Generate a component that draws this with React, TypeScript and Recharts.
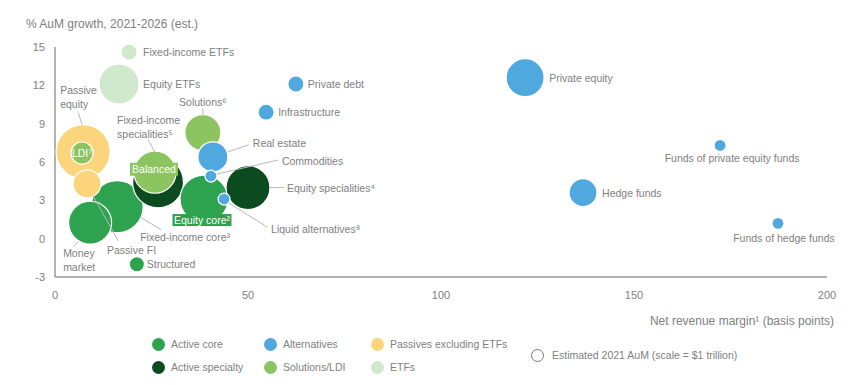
import React from 'react';
import { ScatterChart, Scatter, XAxis, YAxis, ZAxis } from 'recharts';

// draw order matters: later points sit on top of earlier ones
const NAMES = [
  'Passive equity', 'LDI⁷', 'Fixed-income ETFs', 'Equity ETFs', 'Fixed-income core³', 'Money market',
  'Passive FI', 'Fixed-income specialities⁵', 'Balanced', 'Equity core²', 'Equity specialities⁴',
  'Solutions⁶', 'Real estate', 'Commodities', 'Liquid alternatives⁸', 'Structured', 'Infrastructure',
  'Private debt', 'Private equity', 'Hedge funds', 'Funds of private equity funds', 'Funds of hedge funds',
];
const GROUP = [
  'Passives excluding ETFs', 'Solutions/LDI', 'ETFs', 'ETFs', 'Active core', 'Active core',
  'Passives excluding ETFs', 'Active specialty', 'Solutions/LDI', 'Active core', 'Active specialty',
  'Solutions/LDI', 'Alternatives', 'Alternatives', 'Alternatives', 'Active core', 'Alternatives',
  'Alternatives', 'Alternatives', 'Alternatives', 'Alternatives', 'Alternatives',
];
// net revenue margin, basis points
const NET_MARGIN = [7.3, 7.0, 19.2, 16.6, 16.1, 9.1, 8.3, 26.7, 25.9, 38.6, 50.0, 38.3, 40.9, 40.4, 43.8, 21.2, 54.7, 62.4, 121.8, 136.8, 172.3, 187.3];
// % AuM growth 2021-2026
const GROWTH = [6.8, 6.7, 14.6, 12.1, 2.5, 1.25, 4.3, 4.4, 5.2, 3.1, 4.0, 8.3, 6.4, 4.9, 3.1, -2.0, 9.9, 12.1, 12.6, 3.6, 7.3, 1.2];
// estimated 2021 AuM, $ trillion
const AUM = [20.3, 3.4, 1.8, 11.1, 18.8, 12.8, 5.4, 18, 12.3, 16, 13.4, 9, 6.25, 1, 1, 1.6, 1.8, 1.8, 10, 5.4, 1, 1];

const X_TICKS = [0, 50, 100, 150, 200];
const Y_TICKS = [-3, 0, 3, 6, 9, 12, 15];

const LEGEND_ROWS = [
  ['Active core', 'Alternatives', 'Passives excluding ETFs'],
  ['Active specialty', 'Solutions/LDI', 'ETFs'],
];

const COLORS: Record<string, string> = {
  'Active core': '#2ea34f',
  'Active specialty': '#0c4a20',
  'Alternatives': '#4fa9df',
  'Passives excluding ETFs': '#fcd47c',
  'Solutions/LDI': '#8cc460',
  'ETFs': '#d0e8cc',
};

const FONT = '"Liberation Sans", Arial, sans-serif';
const TEXT = '#808080';

type LabelSpec = {
  dx: number;
  dy: number;
  anchor?: 'start' | 'middle' | 'end';
  split?: boolean;
  leader?: [number, number, number, number];
  box?: { w: number; h: number; fill: string };
  color?: string;
};

const LABELS: Record<string, LabelSpec> = {
  'Fixed-income ETFs': { dx: 14, dy: 0 },
  'Equity ETFs': { dx: 24, dy: 0 },
  'Passive equity': { dx: -23, dy: -62, split: true, leader: [-5, -39, -1, -27] },
  'LDI⁷': { dx: 0, dy: 0, anchor: 'middle', color: '#fff' },
  'Passive FI': { dx: 20, dy: 66, leader: [6, 12, 31, 57] },
  'Money market': { dx: -27, dy: 30, split: true, leader: [-12, 19, -16, 24] },
  'Fixed-income core³': { dx: 23, dy: 30, leader: [24, 11, 44, 23] },
  'Fixed-income specialities⁵': { dx: -41, dy: -62, split: true, leader: [-10, -43, -3, -30] },
  'Balanced': { dx: -1, dy: -3, anchor: 'middle', box: { w: 48, h: 13, fill: COLORS['Solutions/LDI'] }, color: '#fff' },
  'Solutions⁶': { dx: 0, dy: -31, anchor: 'middle', leader: [0, -24, 0, -18] },
  'Real estate': { dx: 40, dy: -14, leader: [15, -5, 36, -12] },
  'Commodities': { dx: 71, dy: -15, leader: [6, -2, 67, -16] },
  'Equity specialities⁴': { dx: 39, dy: 0, leader: [22, 0, 36, 0] },
  'Liquid alternatives⁸': { dx: 47, dy: 30, leader: [5, 4, 43, 28] },
  'Equity core²': { dx: -2, dy: 21, anchor: 'middle', box: { w: 59, h: 12, fill: COLORS['Active core'] }, color: '#fff' },
  'Structured': { dx: 10, dy: 0 },
  'Private debt': { dx: 12, dy: 0 },
  'Infrastructure': { dx: 12, dy: 0 },
  'Private equity': { dx: 24, dy: 0 },
  'Funds of private equity funds': { dx: 12, dy: 13, anchor: 'middle' },
  'Hedge funds': { dx: 19, dy: 0 },
  'Funds of hedge funds': { dx: 6, dy: 15, anchor: 'middle' },
};

const data = NAMES.map((name, i) => ({
  name,
  group: GROUP[i],
  x: NET_MARGIN[i],
  y: GROWTH[i],
  z: AUM[i],
}));

// ZAxis maps AuM linearly to circle area: $1T -> radius 6px
const Z_MAX = 25;
const R_PER_TRILLION = 6;

function Bubble(props: any) {
  const { cx, cy, width, payload } = props;
  if (cx == null || cy == null) return <g />;
  return (
    <circle cx={cx} cy={cy} r={width / 2} fill={COLORS[payload.group]} stroke="#fff" strokeWidth={1.2} />
  );
}

function BubbleLabel(props: any) {
  const { cx, cy, payload } = props;
  const spec = LABELS[payload.name];
  if (cx == null || !spec) return <g />;
  const lines = spec.split ? [payload.name.slice(0, payload.name.indexOf(' ')), payload.name.slice(payload.name.indexOf(' ') + 1)] : [payload.name];
  const tx = cx + spec.dx;
  const ty = cy + spec.dy;
  return (
    <g>
      {spec.leader && (
        <line
          x1={cx + spec.leader[0]} y1={cy + spec.leader[1]}
          x2={cx + spec.leader[2]} y2={cy + spec.leader[3]}
          stroke="#b8b8b8" strokeWidth={1}
        />
      )}
      {spec.box && (
        <rect x={tx - spec.box.w / 2} y={ty - spec.box.h / 2} width={spec.box.w} height={spec.box.h} fill={spec.box.fill} />
      )}
      {lines.map((t, k) => (
        <text
          key={k}
          x={tx}
          y={ty + k * 14}
          textAnchor={spec.anchor || 'start'}
          dominantBaseline="central"
          fontFamily={FONT}
          fontSize={10.5}
          fill={spec.color || TEXT}
        >
          {t}
        </text>
      ))}
    </g>
  );
}

const LEGEND_X = [152, 264, 371];
const LEGEND_Y = [344, 367];

export default function App() {
  return (
    <div style={{ position: 'absolute', left: 0, top: 0, width: 865, height: 385, background: '#fff', fontFamily: FONT }}>
      <div style={{ position: 'absolute', left: 26, top: 17, fontSize: 12, color: TEXT, whiteSpace: 'nowrap' }}>
        % AuM growth, 2021-2026 (est.)
      </div>
      <ScatterChart width={865} height={385} margin={{ top: 47, right: 38, left: 15, bottom: 78 }}>
        <XAxis
          type="number" dataKey="x" domain={[0, 200]} ticks={X_TICKS} height={30}
          axisLine={{ stroke: '#9a9a9a', strokeWidth: 1.5 }} tickLine={false} tickMargin={8}
          tick={{ fontSize: 11, fill: TEXT, fontFamily: FONT }}
        />
        <YAxis
          type="number" dataKey="y" domain={[-3, 15]} ticks={Y_TICKS} width={40}
          axisLine={{ stroke: '#9a9a9a', strokeWidth: 1.5 }} tickLine={false} tickMargin={4}
          tick={{ fontSize: 11, fill: TEXT, fontFamily: FONT }}
        />
        <ZAxis type="number" dataKey="z" domain={[0, Z_MAX]} range={[0, Z_MAX * Math.PI * R_PER_TRILLION * R_PER_TRILLION]} />
        <Scatter data={data} shape={Bubble} isAnimationActive={false} />
        <Scatter data={data} shape={BubbleLabel} isAnimationActive={false} />
      </ScatterChart>
      <div style={{ position: 'absolute', right: 865 - 834, top: 314, fontSize: 12, color: TEXT, whiteSpace: 'nowrap' }}>
        Net revenue margin¹ (basis points)
      </div>
      {LEGEND_ROWS.map((row, r) =>
        row.map((g, c) => (
          <div key={g} style={{ position: 'absolute', left: LEGEND_X[c], top: LEGEND_Y[r] - 7, height: 14, display: 'flex', alignItems: 'center', whiteSpace: 'nowrap' }}>
            <span style={{ width: 13, height: 13, borderRadius: '50%', background: COLORS[g], display: 'inline-block' }} />
            <span style={{ marginLeft: 6, fontSize: 10.5, color: TEXT }}>{g}</span>
          </div>
        ))
      )}
      <div style={{ position: 'absolute', left: 531, top: 348, height: 14, display: 'flex', alignItems: 'center', whiteSpace: 'nowrap' }}>
        <span style={{ width: 11, height: 11, borderRadius: '50%', border: '1px solid #777', display: 'inline-block' }} />
        <span style={{ marginLeft: 8, fontSize: 10.5, color: TEXT }}>Estimated 2021 AuM (scale = $1 trillion)</span>
      </div>
    </div>
  );
}
